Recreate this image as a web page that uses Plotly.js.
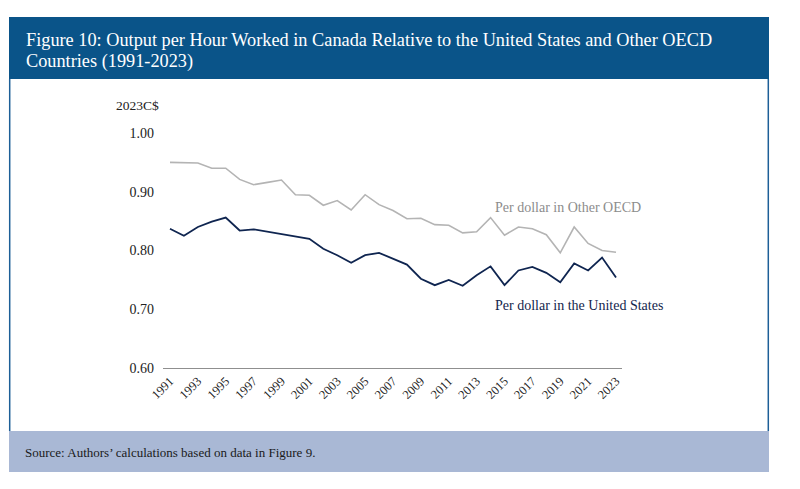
<!DOCTYPE html>
<html>
<head>
<meta charset="utf-8">
<script src="https://cdn.plot.ly/plotly-3.0.1.min.js"></script>
<style>
    html, body { margin: 0; padding: 0; background: #ffffff; }
    #chart { width: 800px; height: 489px; }
</style>
</head>
<body>
<div id="chart"></div>
<script>
// Figure 10 - output per hour worked, Canada vs US and other OECD

const years = [1991, 1992, 1993, 1994, 1995, 1996, 1997, 1998, 1999, 2000, 2001,
    2002, 2003, 2004, 2005, 2006, 2007, 2008, 2009, 2010, 2011, 2012,
    2013, 2014, 2015, 2016, 2017, 2018, 2019, 2020, 2021, 2022, 2023];

const perDollarOECD = [0.950, 0.950, 0.949, 0.940, 0.940, 0.921, 0.912, 0.916, 0.920, 0.895, 0.894,
    0.877, 0.885, 0.869, 0.895, 0.878, 0.868, 0.854, 0.855, 0.844, 0.843, 0.830,
    0.832, 0.856, 0.826, 0.840, 0.837, 0.827, 0.796, 0.840, 0.812, 0.800, 0.797];

const perDollarUS = [0.837, 0.825, 0.840, 0.849, 0.856, 0.834, 0.836, 0.832, 0.829, 0.824, 0.820,
    0.803, 0.792, 0.779, 0.792, 0.796, 0.786, 0.776, 0.752, 0.741, 0.750, 0.740,
    0.758, 0.773, 0.741, 0.766, 0.772, 0.762, 0.746, 0.778, 0.766, 0.788, 0.754];

const yTicks = [0.6, 0.7, 0.8, 0.9, 1.0];
const xTicks = [1991, 1993, 1995, 1997, 1999, 2001, 2003, 2005, 2007, 2009,
    2011, 2013, 2015, 2017, 2019, 2021, 2023];

const SERIF = '"Liberation Serif", "DejaVu Serif", serif';
const HEADER_BLUE = '#0a5489';
const FOOTER_BLUE = '#a9b8d5';

// plot area in pixels, used to place the frame around it
const PLOT_L = 163, PLOT_R = 622, PLOT_T = 133, PLOT_B = 368;

function px(x) { return (x - PLOT_L) / (PLOT_R - PLOT_L); }
function py(y) { return (PLOT_B - y) / (PLOT_B - PLOT_T); }

function frameShapes() {
    return [
        // header band
        { type: 'rect', xref: 'paper', yref: 'paper', x0: px(9), x1: px(769), y0: py(79), y1: py(17),
          fillcolor: HEADER_BLUE, line: { width: 0 }, layer: 'below' },
        // footer band
        { type: 'rect', xref: 'paper', yref: 'paper', x0: px(9), x1: px(769), y0: py(472), y1: py(431),
          fillcolor: FOOTER_BLUE, line: { width: 0 }, layer: 'below' },
        // side borders of the white box
        { type: 'line', xref: 'paper', yref: 'paper', x0: px(9.7), x1: px(9.7), y0: py(431), y1: py(79),
          line: { color: '#1d5f97', width: 1.5 } },
        { type: 'line', xref: 'paper', yref: 'paper', x0: px(768.3), x1: px(768.3), y0: py(431), y1: py(79),
          line: { color: '#1d5f97', width: 1.5 } }
    ];
}

function frameAnnotations() {
    return [
        { xref: 'paper', yref: 'paper', x: px(24), y: py(40), xanchor: 'left', yanchor: 'middle',
          text: 'Figure 10: Output per Hour Worked in Canada Relative to the United States and Other OECD',
          showarrow: false, font: { family: SERIF, size: 18.3, color: '#ffffff' } },
        { xref: 'paper', yref: 'paper', x: px(24), y: py(61), xanchor: 'left', yanchor: 'middle',
          text: 'Countries (1991-2023)',
          showarrow: false, font: { family: SERIF, size: 18.3, color: '#ffffff' } },
        { xref: 'paper', yref: 'paper', x: px(23), y: py(452), xanchor: 'left', yanchor: 'middle',
          text: 'Source: Authors\u2019 calculations based on data in Figure 9.',
          showarrow: false, font: { family: SERIF, size: 13, color: '#1a1a1a' } },
        { xref: 'paper', yref: 'paper', x: px(137), y: py(105), xanchor: 'center', yanchor: 'middle',
          text: '2023C$', showarrow: false, font: { family: SERIF, size: 13.5, color: '#222222' } },
        // series labels
        { xref: 'x', yref: 'y', x: 2014.2, y: 0.874, xanchor: 'left', yanchor: 'middle',
          text: 'Per dollar in Other OECD', showarrow: false,
          font: { family: SERIF, size: 14, color: '#8c8c8c' } },
        { xref: 'x', yref: 'y', x: 2014.2, y: 0.707, xanchor: 'left', yanchor: 'middle',
          text: 'Per dollar in the United States', showarrow: false,
          font: { family: SERIF, size: 14, color: '#13264d' } }
    ];
}

function createProductivityChart() {
    if (typeof Plotly === 'undefined') return;

    const oecdTrace = {
        x: years,
        y: perDollarOECD,
        type: 'scatter',
        mode: 'lines',
        name: 'Per dollar in Other OECD',
        line: { color: '#b4b4b4', width: 1.6 }
    };

    const usTrace = {
        x: years,
        y: perDollarUS,
        type: 'scatter',
        mode: 'lines',
        name: 'Per dollar in the United States',
        line: { color: '#0f2550', width: 1.8 }
    };

    const layout = {
        width: 800,
        height: 489,
        margin: { l: PLOT_L, r: 800 - PLOT_R, t: PLOT_T, b: 489 - PLOT_B, pad: 0 },
        paper_bgcolor: '#ffffff',
        plot_bgcolor: 'rgba(0,0,0,0)',
        showlegend: false,
        font: { family: SERIF, color: '#222222' },
        xaxis: {
            range: [1990.5, 2023.43],
            tickvals: xTicks,
            ticktext: xTicks.map(String),
            tickangle: -45,
            tickfont: { family: SERIF, size: 12.5, color: '#222222' },
            showgrid: false,
            zeroline: false,
            showline: true,
            linecolor: '#8f8f8f',
            linewidth: 1,
            ticks: ''
        },
        yaxis: {
            range: [0.6, 1.0],
            tickvals: yTicks,
            tickformat: '.2f',
            tickfont: { family: SERIF, size: 14, color: '#222222' },
            ticklabelstandoff: 8,
            showgrid: false,
            zeroline: false,
            showline: false,
            ticks: ''
        },
        shapes: frameShapes(),
        annotations: frameAnnotations()
    };

    try {
        Plotly.newPlot('chart', [oecdTrace, usTrace], layout, { displayModeBar: false, staticPlot: true });
    } catch (error) {
        console.log('Error creating productivity chart:', error);
    }
}

createProductivityChart();
</script>
</body>
</html>
